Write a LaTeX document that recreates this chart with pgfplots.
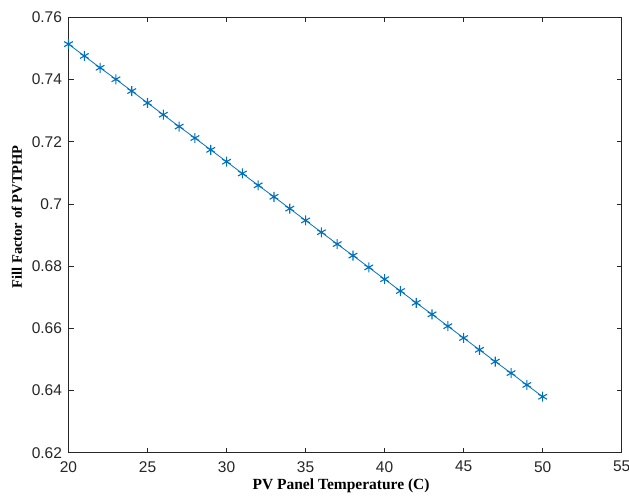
\documentclass[border=0pt]{standalone}
\usepackage{fontspec}
\setmainfont{Liberation Serif}
\newfontfamily\tickfont{Liberation Sans}
\usepackage{pgfplots}
\pgfplotsset{compat=1.18}
\definecolor{mblue}{RGB}{0,114,189}
\begin{document}
\begin{tikzpicture}
\path[use as bounding box] (-68.5pt,-43pt) rectangle (560.5pt,452.7pt);
\begin{axis}[
  scale only axis,
  width=553.2pt, height=435.3pt,
  xmin=20, xmax=55, ymin=0.62, ymax=0.76,
  xtick={20,25,...,55},
  ytick={0.62,0.64,0.66,0.68,0.70,0.72,0.74,0.76},
  tick align=inside,
  major tick length=5pt,
  tick pos=both,
  xticklabel pos=bottom, yticklabel pos=left,
  axis line style={black!85, line width=0.9pt},
  tick style={black!85, line width=0.8pt},
  /pgf/number format/assume math mode=true,
  /pgf/number format/fixed,
  /pgf/number format/precision=2,
  tick label style={font=\fontsize{15.5}{15.5}\selectfont\tickfont, text=black!85},
  xticklabel style={yshift=-5pt},
  yticklabel style={xshift=-3pt},
  xlabel={\textbf{PV Panel Temperature (C)}},
  ylabel={\textbf{Fill Factor of PVTPHP}},
  xlabel style={at={(axis description cs:0.5,0)}, anchor=base, yshift=-37pt, xshift=-4pt, font=\fontsize{15.5}{15.5}\selectfont},
  ylabel style={at={(axis description cs:-0.0931,0.542)}, anchor=center, font=\fontsize{14.5}{14.5}\selectfont},
]
\addplot[color=mblue, line width=0.8pt, mark=asterisk, mark size=5pt, mark options={line width=1.1pt}] coordinates {
(20,0.7514) (21,0.7476) (22,0.7438) (23,0.7401) (24,0.7363) (25,0.7325)
(26,0.7287) (27,0.7249) (28,0.7212) (29,0.7174) (30,0.7136) (31,0.7098)
(32,0.7060) (33,0.7023) (34,0.6985) (35,0.6947) (36,0.6909) (37,0.6871)
(38,0.6834) (39,0.6796) (40,0.6758) (41,0.6720) (42,0.6682) (43,0.6645)
(44,0.6607) (45,0.6569) (46,0.6531) (47,0.6493) (48,0.6456) (49,0.6418)
(50,0.6380)
};
\end{axis}
\end{tikzpicture}
\end{document}
